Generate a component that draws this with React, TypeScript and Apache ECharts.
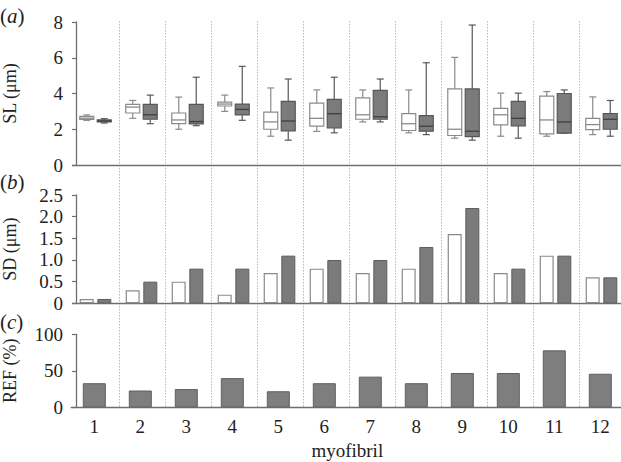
import React, { useEffect, useRef } from "react";
import * as echarts from "echarts";

const categories = ["1", "2", "3", "4", "5", "6", "7", "8", "9", "10", "11", "12"];

// Panel (a): sarcomere length box plots [min, Q1, median, Q3, max]
const slWhite = [
  [2.5, 2.55, 2.62, 2.72, 2.8],
  [2.61, 2.91, 3.24, 3.39, 3.61],
  [2.0, 2.31, 2.52, 2.91, 3.8],
  [3.0, 3.3, 3.41, 3.52, 3.91],
  [1.61, 2.0, 2.41, 2.96, 4.31],
  [1.88, 2.17, 2.61, 3.46, 4.2],
  [2.41, 2.56, 2.81, 3.76, 4.2],
  [1.8, 1.93, 2.31, 2.87, 4.2],
  [1.5, 1.65, 2.0, 4.26, 6.02],
  [1.61, 2.24, 2.81, 3.17, 4.02],
  [1.61, 1.74, 2.52, 3.85, 4.11],
  [1.7, 1.98, 2.26, 2.61, 3.81],
];
const slGrey = [
  [2.35, 2.41, 2.46, 2.52, 2.59],
  [2.31, 2.56, 2.81, 3.39, 3.91],
  [2.2, 2.3, 2.43, 3.39, 4.91],
  [2.5, 2.8, 3.11, 3.41, 5.52],
  [1.39, 1.91, 2.46, 3.56, 4.81],
  [1.8, 2.07, 2.87, 3.67, 4.91],
  [2.41, 2.56, 2.7, 4.17, 4.81],
  [1.7, 1.89, 2.17, 2.76, 5.72],
  [1.39, 1.59, 1.89, 4.26, 7.83],
  [1.5, 2.19, 2.61, 3.56, 4.02],
  [1.78, 1.78, 2.41, 4.0, 4.2],
  [1.61, 2.0, 2.56, 2.87, 3.61],
];

// Panel (b): SD
const sdWhite = [0.1, 0.3, 0.5, 0.2, 0.7, 0.8, 0.7, 0.8, 1.6, 0.7, 1.1, 0.6];
const sdGrey = [0.1, 0.5, 0.8, 0.8, 1.1, 1.0, 1.0, 1.3, 2.2, 0.8, 1.1, 0.6];

// Panel (c): REF (%)
const refValues = [33, 23, 25, 40, 22, 33, 42, 33, 47, 47, 78, 46];

// Axis tick settings
const slTicks = [0, 2, 4, 6, 8];
const sdTicks = [0, 0.5, 1.0, 1.5, 2.0, 2.5];
const refTicks = [0, 50, 100];

const FONT = "Liberation Serif";
const TEXT = "#222222";
const AXIS = "#6f6f6f";

function yAxisFor(
  gridIndex: number,
  ticks: number[],
  name: string,
  offset: number,
  fmt?: (v: number) => string
) {
  return {
    type: "value",
    gridIndex,
    min: ticks[0],
    max: ticks[ticks.length - 1],
    interval: ticks[1] - ticks[0],
    offset,
    name,
    nameLocation: "middle",
    nameGap: 57,
    nameMoveOverlap: false,
    nameTextStyle: { fontFamily: FONT, fontSize: 18, color: TEXT },
    axisLine: { show: true, lineStyle: { color: AXIS, width: 1.3 } },
    axisTick: { show: true, length: 4, lineStyle: { color: AXIS, width: 1.2 } },
    axisLabel: {
      fontFamily: FONT,
      fontSize: 19,
      color: TEXT,
      margin: 13,
      formatter: fmt ? fmt : (v: number) => String(v),
    },
    splitLine: { show: false },
  };
}

function xAxisFor(gridIndex: number, showLabels: boolean) {
  return {
    type: "category",
    gridIndex,
    data: categories,
    boundaryGap: true,
    axisLine: { show: true, lineStyle: { color: AXIS, width: 1.3 } },
    axisTick: { show: false },
    axisLabel: showLabels
      ? { show: true, fontFamily: FONT, fontSize: 19, color: TEXT, margin: 10 }
      : { show: false },
    splitLine: { show: false },
    name: showLabels ? "myofibril" : "",
    nameLocation: "middle",
    nameGap: 34,
    nameTextStyle: { fontFamily: FONT, fontSize: 19, color: TEXT },
  };
}

function panelLabel(letter: string, top: number) {
  return {
    type: "text",
    left: 0,
    top,
    style: {
      text: "{p|(}{l|" + letter + "}{p|)}",
      rich: {
        p: { fontFamily: FONT, fontSize: 21, fill: TEXT },
        l: { fontFamily: FONT, fontSize: 21, fontStyle: "italic", fill: TEXT },
      },
    },
  };
}

function boxSeries(data: number[][], shift: number, fill: string, stroke: string, medianColor: string) {
  return {
    type: "custom",
    xAxisIndex: 1,
    yAxisIndex: 1,
    data: data.map((d, i) => [i, ...d]),
    encode: { x: 0, y: [1, 2, 3, 4, 5] },
    renderItem: (_params: any, api: any) => {
      const idx = api.value(0);
      const bw = api.size([1, 0])[0];
      const cx = api.coord([idx, 0])[0] + shift * bw;
      const ys = [1, 2, 3, 4, 5].map((k) => api.coord([idx, api.value(k)])[1]);
      const half = bw * 0.152;
      const cap = half / 2;
      const ls = { stroke, lineWidth: 1.2 };
      return {
        type: "group",
        children: [
          { type: "line", shape: { x1: cx, y1: ys[4], x2: cx, y2: ys[3] }, style: ls },
          { type: "line", shape: { x1: cx, y1: ys[1], x2: cx, y2: ys[0] }, style: ls },
          { type: "line", shape: { x1: cx - cap, y1: ys[4], x2: cx + cap, y2: ys[4] }, style: ls },
          { type: "line", shape: { x1: cx - cap, y1: ys[0], x2: cx + cap, y2: ys[0] }, style: ls },
          {
            type: "rect",
            shape: { x: cx - half, y: ys[3], width: half * 2, height: ys[1] - ys[3] },
            style: { fill, stroke, lineWidth: 1.2 },
          },
          {
            type: "line",
            shape: { x1: cx - half, y1: ys[2], x2: cx + half, y2: ys[2] },
            style: { stroke: medianColor, lineWidth: 1.3 },
          },
        ],
      };
    },
  };
}

export default function App() {
  const ref = useRef<HTMLDivElement>(null);

  useEffect(() => {
    document.body.style.margin = "0";
    if (!ref.current) return;
    const chart = echarts.init(ref.current, undefined, { renderer: "svg" });

    const option = {
      animation: false,
      backgroundColor: "#ffffff",
      grid: [
        { left: 73.3, top: 21, width: 552, height: 386, outerBoundsMode: "none" },
        { left: 72.5, top: 22, width: 552, height: 143, outerBoundsMode: "none" },
        { left: 72.5, top: 195, width: 552, height: 108.3, outerBoundsMode: "none" },
        { left: 71.3, top: 334.3, width: 552, height: 73, outerBoundsMode: "none" },
      ],
      xAxis: [
        {
          type: "category",
          gridIndex: 0,
          data: categories,
          boundaryGap: true,
          axisLine: { show: false },
          axisTick: { show: false },
          axisLabel: { show: false },
          splitLine: {
            show: true,
            interval: (index: number) => index > 0,
            lineStyle: { color: "#b8b8b8", width: 1, type: [1.5, 1.5] },
          },
        },
        xAxisFor(1, false),
        xAxisFor(2, false),
        xAxisFor(3, true),
      ],
      yAxis: [
        { type: "value", gridIndex: 0, min: 0, max: 1, show: false, splitLine: { show: false } },
        yAxisFor(1, slTicks, "SL (μm)", -3.5),
        yAxisFor(2, sdTicks, "SD (μm)", -3.5, (v: number) => (v === 0 ? "0" : v.toFixed(1))),
        yAxisFor(3, refTicks, "REF (%)", -4.7),
      ],
      graphic: [panelLabel("a", 5), panelLabel("b", 171), panelLabel("c", 311)],
      series: [
        boxSeries(slWhite, -0.19, "#ffffff", "#8a8a8a", "#8a8a8a"),
        boxSeries(slGrey, 0.19, "#7b7b7b", "#575757", "#3f3f3f"),
        {
          type: "bar",
          xAxisIndex: 2,
          yAxisIndex: 2,
          data: sdWhite,
          barWidth: 14,
          barGap: "26%",
          itemStyle: { color: "#ffffff", borderColor: "#8a8a8a", borderWidth: 1.2 },
        },
        {
          type: "bar",
          xAxisIndex: 2,
          yAxisIndex: 2,
          data: sdGrey,
          barWidth: 14,
          barGap: "26%",
          itemStyle: { color: "#7b7b7b", borderColor: "#5e5e5e", borderWidth: 1 },
        },
        {
          type: "bar",
          xAxisIndex: 3,
          yAxisIndex: 3,
          data: refValues,
          barWidth: 23,
          itemStyle: { color: "#7e7e7e", borderColor: "#606060", borderWidth: 1 },
        },
      ],
    };

    chart.setOption(option as any);
    return () => chart.dispose();
  }, []);

  return (
    <div
      ref={ref}
      style={{ position: "absolute", left: 0, top: 0, width: 621, height: 462 }}
    />
  );
}
